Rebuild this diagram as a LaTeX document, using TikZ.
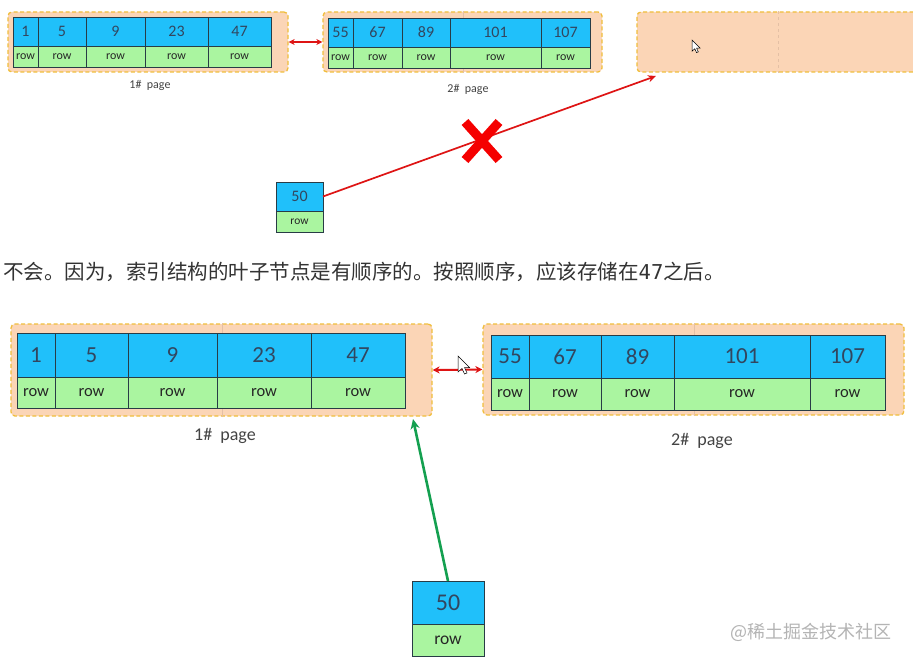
\documentclass[tikz,border=0pt]{standalone}
\usepackage{fontspec}
\setmainfont{Carlito}
\newfontfamily\cjk{Noto Sans CJK SC}
\newfontfamily\monofont{DejaVu Sans Mono}
\usetikzlibrary{arrows.meta,calc}
\definecolor{cellblue}{RGB}{32,192,250}
\definecolor{cellgreen}{RGB}{170,245,160}
\definecolor{pagefill}{RGB}{251,213,182}
\definecolor{pagedash}{RGB}{240,190,60}
\definecolor{numtext}{RGB}{50,70,95}
\definecolor{gridline}{RGB}{40,60,70}
\definecolor{faintline}{RGB}{228,192,165}
\definecolor{arrred}{RGB}{222,20,20}
\definecolor{arrgreen}{RGB}{20,160,80}
\definecolor{labgray}{RGB}{68,68,68}
\definecolor{txtgray}{RGB}{51,51,51}
\definecolor{wmgray}{RGB}{180,180,180}
\definecolor{crossred}{RGB}{245,0,0}
\tikzset{
  numcell/.style={draw=gridline, line width=0.8pt, fill=cellblue, text=numtext, inner sep=0pt, outer sep=0pt, rectangle},
  rowcell/.style={draw=gridline, line width=0.8pt, fill=cellgreen, text=black!85, inner sep=0pt, outer sep=0pt, rectangle},
  pagebox/.style={draw=pagedash, fill=pagefill, line width=1.3pt, dash pattern=on 4pt off 2.5pt, rounded corners=4pt, inner sep=0pt, rectangle},
  pagelab/.style={text=labgray, inner sep=0pt},
  redarrow/.style={draw=arrred, line width=1.7pt},
  greenarrow/.style={draw=arrgreen, line width=2.6pt},
}
\newcommand\mkcells[7]{%
  \foreach \xa/\xb/\v [count=\i] in {#7} {
    \node[numcell, minimum width={(\xb-\xa)*1pt}, minimum height={(#3-#2)*1pt}, font=\fontsize{#5}{#5}\selectfont] (#1-n\i) at ({(\xa+\xb)/2},{(#2+#3)/2}) {\v};
    \node[rowcell, minimum width={(\xb-\xa)*1pt}, minimum height={(#4-#3)*1pt}, font=\fontsize{#6}{#6}\selectfont] (#1-r\i) at ({(\xa+\xb)/2},{(#3+#4)/2}) {row};
  }}
\newcommand\mycursor[2]{%
  \draw[fill=white, draw=black, line width=0.5pt, shift={(#1)}, scale=#2]
    (0,0) -- (0,16) -- (4,12.5) -- (6.5,18) -- (9,17) -- (6.5,11.5) -- (11.5,11.5) -- cycle;}
\begin{document}
\begin{tikzpicture}[x=1pt,y=-1pt]
\useasboundingbox (0,0) rectangle (913,661);
\fill[white] (0,0) rectangle (913,661);
\begin{scope}
\clip (0,0) rectangle (913,661);
% ---------- top row ----------
\node[pagebox, minimum width=280pt, minimum height=60pt] (tlp) at (148,42) {};
\node[pagebox, minimum width=279pt, minimum height=60pt] (tmp) at (462.5,42) {};
\node[pagebox, minimum width=300pt, minimum height=60pt] (trp) at (787,42) {};
\draw[faintline, line width=0.6pt] (tmp.north -| 463,0) -- (tmp.south -| 463,0);
\draw[faintline, line width=0.6pt, dashed] (trp.north -| 778,0) -- (trp.south -| 778,0);
\mkcells{tl}{17}{46}{67}{16}{12}{13/38/1, 38/86/5, 86/145/9, 145/208/23, 208/271/47}
\mkcells{tm}{18}{47}{68}{16}{12}{328/353/55, 353/402/67, 402/450/89, 450/541/101, 541/590/107}
\node[pagelab, font=\fontsize{12}{12}\selectfont] (tl-lab) at (150,85) {1\#\hspace{0.45em}page};
\node[pagelab, font=\fontsize{12}{12}\selectfont] (tm-lab) at (468,89) {2\#\hspace{0.45em}page};
\draw[redarrow, {Stealth[length=6pt,width=6pt]}-{Stealth[length=6pt,width=6pt]}] (tlp.east) -- (tmp.west);
% small 50 box
\mkcells{ts}{182}{211}{232}{16}{11.5}{276/323/50}
\coordinate (trtip) at (656,76);
\draw[redarrow, -{Stealth[length=8pt,width=7pt]}] (ts-n1.east) -- (trtip);
% red cross
\coordinate (xc) at (482,141);
\draw[draw=crossred, line width=9pt] ($(xc)+(-17,-19)$) -- ($(xc)+(17,19)$);
\draw[draw=crossred, line width=9pt] ($(xc)+(17,-19)$) -- ($(xc)+(-17,19)$);
\mycursor{692,40}{0.7}
% ---------- text ----------
\node[anchor=west, inner sep=0pt, text=txtgray, font=\cjk\fontsize{20.5}{20.5}\selectfont] (txt) at (3,272) {不会。因为，索引结构的叶子节点是有顺序的。按照顺序，应该存储在{\monofont 47}之后。};
% ---------- bottom row ----------
\node[pagebox, minimum width=421pt, minimum height=92pt] (blp) at (221.5,370) {};
\node[pagebox, minimum width=421pt, minimum height=91pt] (brp) at (693.5,369.5) {};
\draw[faintline, line width=0.6pt] (blp.north -| 222,0) -- (blp.south -| 222,0);
\draw[faintline, line width=0.6pt] (brp.north -| 694,0) -- (brp.south -| 694,0);
\mkcells{bl}{333}{377}{408}{23}{16.5}{17/55/1, 55/128/5, 128/217/9, 217/311/23, 311/405/47}
\mkcells{br}{335}{378}{410}{23}{16.5}{491/529/55, 529/601/67, 601/674/89, 674/810/101, 810/885/107}
\node[pagelab, font=\fontsize{18}{18}\selectfont] (bl-lab) at (225,436) {1\#\hspace{0.45em}page};
\node[pagelab, font=\fontsize{18}{18}\selectfont] (br-lab) at (702,441) {2\#\hspace{0.45em}page};
\draw[redarrow, line width=2pt, {Stealth[length=7pt,width=7pt]}-{Stealth[length=7pt,width=7pt]}] (blp.east) -- (brp.west);
\mycursor{458,356}{1}
% bottom 50 box
\mkcells{bs}{581}{624}{656}{24}{17.5}{412/484/50}
\coordinate (gtip) at (413,419);
\draw[greenarrow, -{Stealth[length=10pt,width=9pt]}] (bs-n1.north) -- (gtip);
% watermark
\node[anchor=east, inner sep=0pt, text=wmgray, font=\cjk\fontsize{18}{18}\selectfont] (wm) at (892,632) {@稀土掘金技术社区};
\end{scope}
\end{tikzpicture}
\end{document}
